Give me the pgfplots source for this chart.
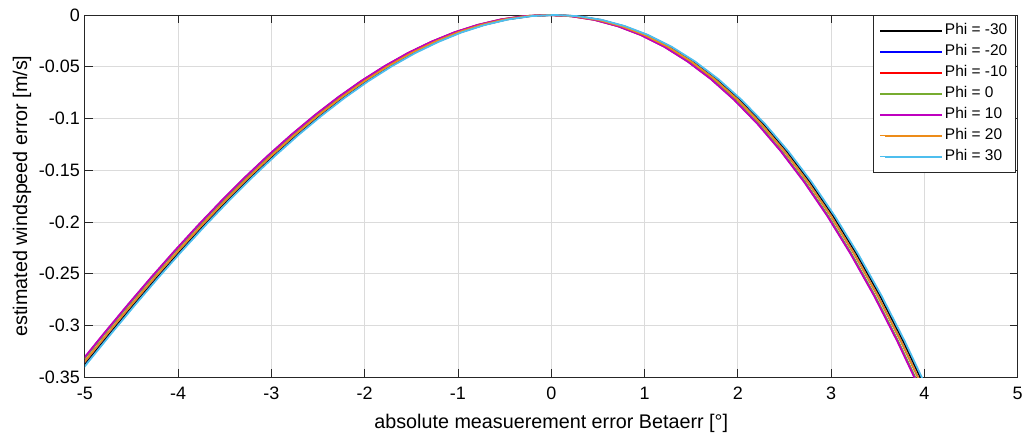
\documentclass[border=0pt]{standalone}
\usepackage{pgfplots}
\usepackage{pgfplotstable}
\pgfplotsset{compat=1.18}
\usepackage{fontspec}
\setmainfont{Liberation Sans}
\definecolor{axgray}{rgb}{0.15,0.15,0.15}
\definecolor{gridgray}{rgb}{0.86,0.86,0.86}
\definecolor{mblue}{rgb}{0,0,1}
\definecolor{mred}{rgb}{1,0,0}
\definecolor{mgreen}{rgb}{0.466,0.674,0.188}
\definecolor{mmag}{rgb}{0.75,0,0.75}
\definecolor{morange}{rgb}{0.93,0.55,0.1}
\definecolor{mcyan}{rgb}{0.301,0.745,0.933}
\pgfplotstableread{
xm xr xg xo xk xc y
-5.29 -5.285 -5.28 -5.25 -5.225 -5.21 -0.3634
-5.04 -5.035 -5.03 -5 -4.975 -4.96 -0.3350
-4.79 -4.785 -4.78 -4.75 -4.725 -4.71 -0.3072
-4.54 -4.535 -4.53 -4.5 -4.475 -4.46 -0.2801
-4.29 -4.285 -4.28 -4.25 -4.225 -4.21 -0.2537
-4.04 -4.035 -4.03 -4 -3.975 -3.96 -0.2282
-3.79 -3.785 -3.78 -3.75 -3.725 -3.71 -0.2036
-3.54 -3.535 -3.53 -3.5 -3.475 -3.46 -0.1800
-3.29 -3.285 -3.28 -3.25 -3.225 -3.21 -0.1574
-3.04 -3.035 -3.03 -3 -2.975 -2.96 -0.1361
-2.79 -2.785 -2.78 -2.75 -2.725 -2.71 -0.1160
-2.54 -2.535 -2.53 -2.5 -2.475 -2.46 -0.0972
-2.29 -2.285 -2.28 -2.25 -2.225 -2.21 -0.0798
-2.04 -2.035 -2.03 -2 -1.975 -1.96 -0.0639
-1.79 -1.785 -1.78 -1.75 -1.725 -1.71 -0.0496
-1.54 -1.535 -1.53 -1.5 -1.475 -1.46 -0.0369
-1.29 -1.285 -1.28 -1.25 -1.225 -1.21 -0.0260
-1.04 -1.035 -1.03 -1 -0.975 -0.96 -0.0168
-0.79 -0.785 -0.78 -0.75 -0.725 -0.71 -0.0096
-0.54 -0.535 -0.53 -0.5 -0.475 -0.46 -0.0043
-0.29 -0.285 -0.28 -0.25 -0.225 -0.21 -0.0011
-0.04 -0.035 -0.03 0 0.025 0.04 0
0.21 0.215 0.22 0.25 0.275 0.29 -0.0012
0.46 0.465 0.47 0.5 0.525 0.54 -0.0047
0.71 0.715 0.72 0.75 0.775 0.79 -0.0108
0.96 0.965 0.97 1 1.025 1.04 -0.0194
1.21 1.215 1.22 1.25 1.275 1.29 -0.0307
1.46 1.465 1.47 1.5 1.525 1.54 -0.0449
1.71 1.715 1.72 1.75 1.775 1.79 -0.0619
1.96 1.965 1.97 2 2.025 2.04 -0.0820
2.21 2.215 2.22 2.25 2.275 2.29 -0.1052
2.46 2.465 2.47 2.5 2.525 2.54 -0.1316
2.71 2.715 2.72 2.75 2.775 2.79 -0.1613
2.96 2.965 2.97 3 3.025 3.04 -0.1944
3.21 3.215 3.22 3.25 3.275 3.29 -0.2311
3.46 3.465 3.47 3.5 3.525 3.54 -0.2713
3.71 3.715 3.72 3.75 3.775 3.79 -0.3154
3.96 3.965 3.97 4 4.025 4.04 -0.3632
4.21 4.215 4.22 4.25 4.275 4.29 -0.4150
}\curves
\begin{document}
\begin{tikzpicture}
\begin{axis}[
  scale only axis, width=935pt, height=363pt,
  xmin=-5, xmax=5, ymin=-0.35, ymax=0,
  xtick={-5,-4,-3,-2,-1,0,1,2,3,4,5},
  ytick={-0.35,-0.3,-0.25,-0.2,-0.15,-0.1,-0.05,0},
  scaled y ticks=false,
  /pgf/number format/assume math mode=true,
  yticklabel style={/pgf/number format/fixed, /pgf/number format/precision=2, xshift=-1.5pt},
  xticklabel style={yshift=-6pt},
  tick label style={font=\fontsize{18}{21}\selectfont},
  grid=major, major grid style={gridgray, line width=0.8pt},
  axis line style={axgray, line width=0.8pt},
  tick style={axgray, line width=0.8pt},
  tick align=inside, major tick length=8pt,
  xlabel={absolute measuerement error Betaerr [°]},
  ylabel={estimated windspeed error [m/s]},
  every axis x label/.style={at={(axis description cs:0.5,0)}, anchor=center, yshift=-46pt,
    font=\fontsize{19.8}{23}\selectfont},
  every axis y label/.style={at={(axis description cs:0,0.5)}, xshift=-63pt, anchor=center, rotate=90,
    font=\fontsize{19.8}{23}\selectfont},
  legend style={at={(1,1)}, anchor=north east, xshift=-2pt, draw=axgray, line width=0.8pt,
    font=\fontsize{15.5}{18}\selectfont, inner xsep=6pt, inner ysep=5pt, row sep=0pt,
    nodes={text height=12.5pt, text depth=4.5pt}},
  legend cell align=left,
  legend image code/.code={\path (-5pt,0pt) -- (0pt,0pt);\draw[#1, line width=2pt] (0pt,0pt) -- (57pt,0pt);},
  every axis plot/.append style={line width=1.8pt},
]
\addplot[black] table[x=xk, y=y] {\curves};
\addlegendentry{Phi = -30}
\addplot[mblue] table[x=xo, y=y] {\curves};
\addlegendentry{Phi = -20}
\addplot[mred] table[x=xr, y=y] {\curves};
\addlegendentry{Phi = -10}
\addplot[mgreen] table[x=xg, y=y] {\curves};
\addlegendentry{Phi = 0}
\addplot[mmag] table[x=xm, y=y] {\curves};
\addlegendentry{Phi = 10}
\addplot[morange] table[x=xo, y=y] {\curves};
\addlegendentry{Phi = 20}
\addplot[mcyan] table[x=xc, y=y] {\curves};
\addlegendentry{Phi = 30}
\end{axis}
\path ([xshift=-85pt,yshift=-58pt]current axis.south west) rectangle ([xshift=6pt,yshift=15pt]current axis.north east);
\end{tikzpicture}
\end{document}
